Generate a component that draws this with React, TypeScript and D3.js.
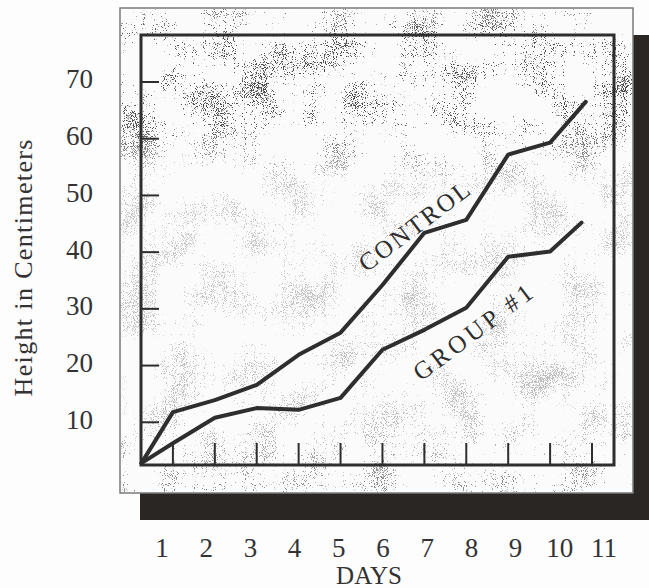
import React from 'react';
import * as d3 from 'd3';

// ---- data ----
const dayLabels = ['1', '2', '3', '4', '5', '6', '7', '8', '9', '10', '11'];
const tickDays = [1, 2, 3, 4, 5, 6, 7, 8, 9, 10, 11];
const yTicks = [10, 20, 30, 40, 50, 60, 70];

const controlDays = [0.25, 1, 2, 3, 4, 5, 6, 7, 8, 9, 10, 10.85];
const controlHeights = [2.8, 11.8, 13.9, 16.6, 21.9, 25.8, 34.2, 43.4, 45.7, 57.2, 59.3, 66.5];

const groupDays = [0.25, 1, 2, 3, 4, 5, 6, 7, 8, 9, 10, 10.75];
const groupHeights = [2.8, 6.3, 10.8, 12.5, 12.2, 14.3, 22.8, 26.3, 30.2, 39.2, 40.1, 45.2];

const seriesLabels = [
  { text: 'CONTROL', day: 6.75, value: 44.6, len: 132 },
  { text: 'GROUP #1', day: 8.15, value: 25.9, len: 142 },
];

const W = 649;
const H = 588;
const FONT = '"Liberation Serif", "Times New Roman", serif';
const INK = '#2e2e2e';

export default function App() {
  const x = d3.scaleLinear().domain([0, 11]).range([131, 592]);
  const y = d3.scaleLinear().domain([0, 70]).range([479, 82]);
  const labelX = d3.scalePoint<string>().domain(dayLabels).range([162, 604]);

  const inner = { x0: 141, y0: 35, x1: 614, y1: 465 };
  const outer = { x0: 120, y0: 8, x1: 633, y1: 493 };

  const line = d3
    .line<[number, number]>()
    .x((d) => x(d[0]))
    .y((d) => y(d[1]))
    .curve(d3.curveLinear);

  const control = controlDays.map((d, i) => [d, controlHeights[i]] as [number, number]);
  const group = groupDays.map((d, i) => [d, groupHeights[i]] as [number, number]);

  return (
    <svg
      width={W}
      height={H}
      viewBox={`0 0 ${W} ${H}`}
      style={{ position: 'absolute', left: 0, top: 0, background: '#fdfdfd' }}
    >
      <defs>
        <filter id="speckle" x="0" y="0" width="1" height="1" colorInterpolationFilters="sRGB">
          <feTurbulence type="fractalNoise" baseFrequency="1.1" numOctaves="1" seed="4" result="fine" />
          <feTurbulence type="fractalNoise" baseFrequency="0.025" numOctaves="2" seed="9" result="coarse" />
          <feColorMatrix in="fine" type="matrix"
            values="0 0 0 0 0  0 0 0 0 0  0 0 0 0 0  1 0 0 0 0" result="fineA" />
          <feColorMatrix in="coarse" type="matrix"
            values="0 0 0 0 0  0 0 0 0 0  0 0 0 0 0  1 0 0 0 0" result="coarseA" />
          <feComposite in="fineA" in2="coarseA" operator="arithmetic" k1="0" k2="1" k3="0.6" k4="-0.3" result="mix" />
          <feColorMatrix in="mix" type="matrix"
            values="0 0 0 0 0.3  0 0 0 0 0.3  0 0 0 0 0.3  0 0 0 14 -9.2" />
        </filter>
        <linearGradient id="densityGrad" x1="0" y1="0" x2="0" y2="1">
          <stop offset="0" stopColor="#fff" stopOpacity={0.7} />
          <stop offset="0.06" stopColor="#fff" stopOpacity={1} />
          <stop offset="0.24" stopColor="#fff" stopOpacity={1} />
          <stop offset="0.36" stopColor="#fff" stopOpacity={0.3} />
          <stop offset="0.85" stopColor="#fff" stopOpacity={0.35} />
          <stop offset="1" stopColor="#fff" stopOpacity={0.7} />
        </linearGradient>
        <mask id="densityMask" maskUnits="userSpaceOnUse" x="0" y="0" width={W} height={H}>
          <rect x={outer.x0} y={outer.y0} width={outer.x1 - outer.x0} height={outer.y1 - outer.y0} fill="url(#densityGrad)" />
        </mask>
      </defs>

      {/* drop shadow */}
      <rect x={outer.x1} y={inner.y0} width={W - outer.x1} height={520 - inner.y0} fill="#2a2624" />
      <rect x={inner.x0 - 1} y={outer.y1} width={W - inner.x0 + 1} height={520 - outer.y1} fill="#2a2624" />

      {/* outer frame */}
      <rect x={outer.x0} y={outer.y0} width={outer.x1 - outer.x0} height={outer.y1 - outer.y0}
        fill="#fbfbfb" stroke="#7a7a7a" strokeWidth={1.5} />
      <g mask="url(#densityMask)">
        <rect x={outer.x0 + 1} y={outer.y0 + 1} width={outer.x1 - outer.x0 - 2} height={outer.y1 - outer.y0 - 2}
          fill="#000" filter="url(#speckle)" />
      </g>

      {/* inner frame */}
      <rect x={inner.x0} y={inner.y0} width={inner.x1 - inner.x0} height={inner.y1 - inner.y0}
        fill="none" stroke={INK} strokeWidth={3} />

      {/* y ticks */}
      {yTicks.map((t) => (
        <line key={'yt' + t} x1={inner.x0} x2={inner.x0 + 18} y1={y(t)} y2={y(t)} stroke={INK} strokeWidth={2} />
      ))}
      {/* x ticks */}
      {tickDays.map((d) => (
        <line key={'xt' + d} x1={x(d)} x2={x(d)} y1={inner.y1} y2={inner.y1 - 22} stroke={INK} strokeWidth={2} />
      ))}

      {/* series */}
      <path d={line(control) || ''} fill="none" stroke={INK} strokeWidth={4} strokeLinejoin="round" strokeLinecap="round" />
      <path d={line(group) || ''} fill="none" stroke={INK} strokeWidth={4} strokeLinejoin="round" strokeLinecap="round" />

      {/* series labels */}
      {seriesLabels.map((s) => (
        <text key={s.text}
          transform={`translate(${x(s.day)},${y(s.value)}) rotate(-37)`}
          textAnchor="middle" dy="0.35em" fontFamily={FONT} fontSize={25} fill={INK}
          textLength={s.len} lengthAdjust="spacing">
          {s.text}
        </text>
      ))}

      {/* y tick labels */}
      {yTicks.map((t) => (
        <text key={'yl' + t} x={93} y={y(t) - 3} dy="0.35em" textAnchor="end"
          fontFamily={FONT} fontSize={27} fill="#333">
          {t}
        </text>
      ))}

      {/* y axis title */}
      <text transform="translate(23,268) rotate(-90)" textAnchor="middle" dy="0.35em"
        fontFamily={FONT} fontSize={26} fill="#333" textLength={257} lengthAdjust="spacing">
        Height in Centimeters
      </text>

      {/* x tick labels */}
      {dayLabels.map((l) => (
        <text key={'xl' + l} x={labelX(l)} y={557} textAnchor="middle"
          fontFamily={FONT} fontSize={27} fill="#333">
          {l}
        </text>
      ))}

      {/* x axis title */}
      <text x={369} y={584} textAnchor="middle" fontFamily={FONT} fontSize={25} fill="#333">
        DAYS
      </text>
    </svg>
  );
}
